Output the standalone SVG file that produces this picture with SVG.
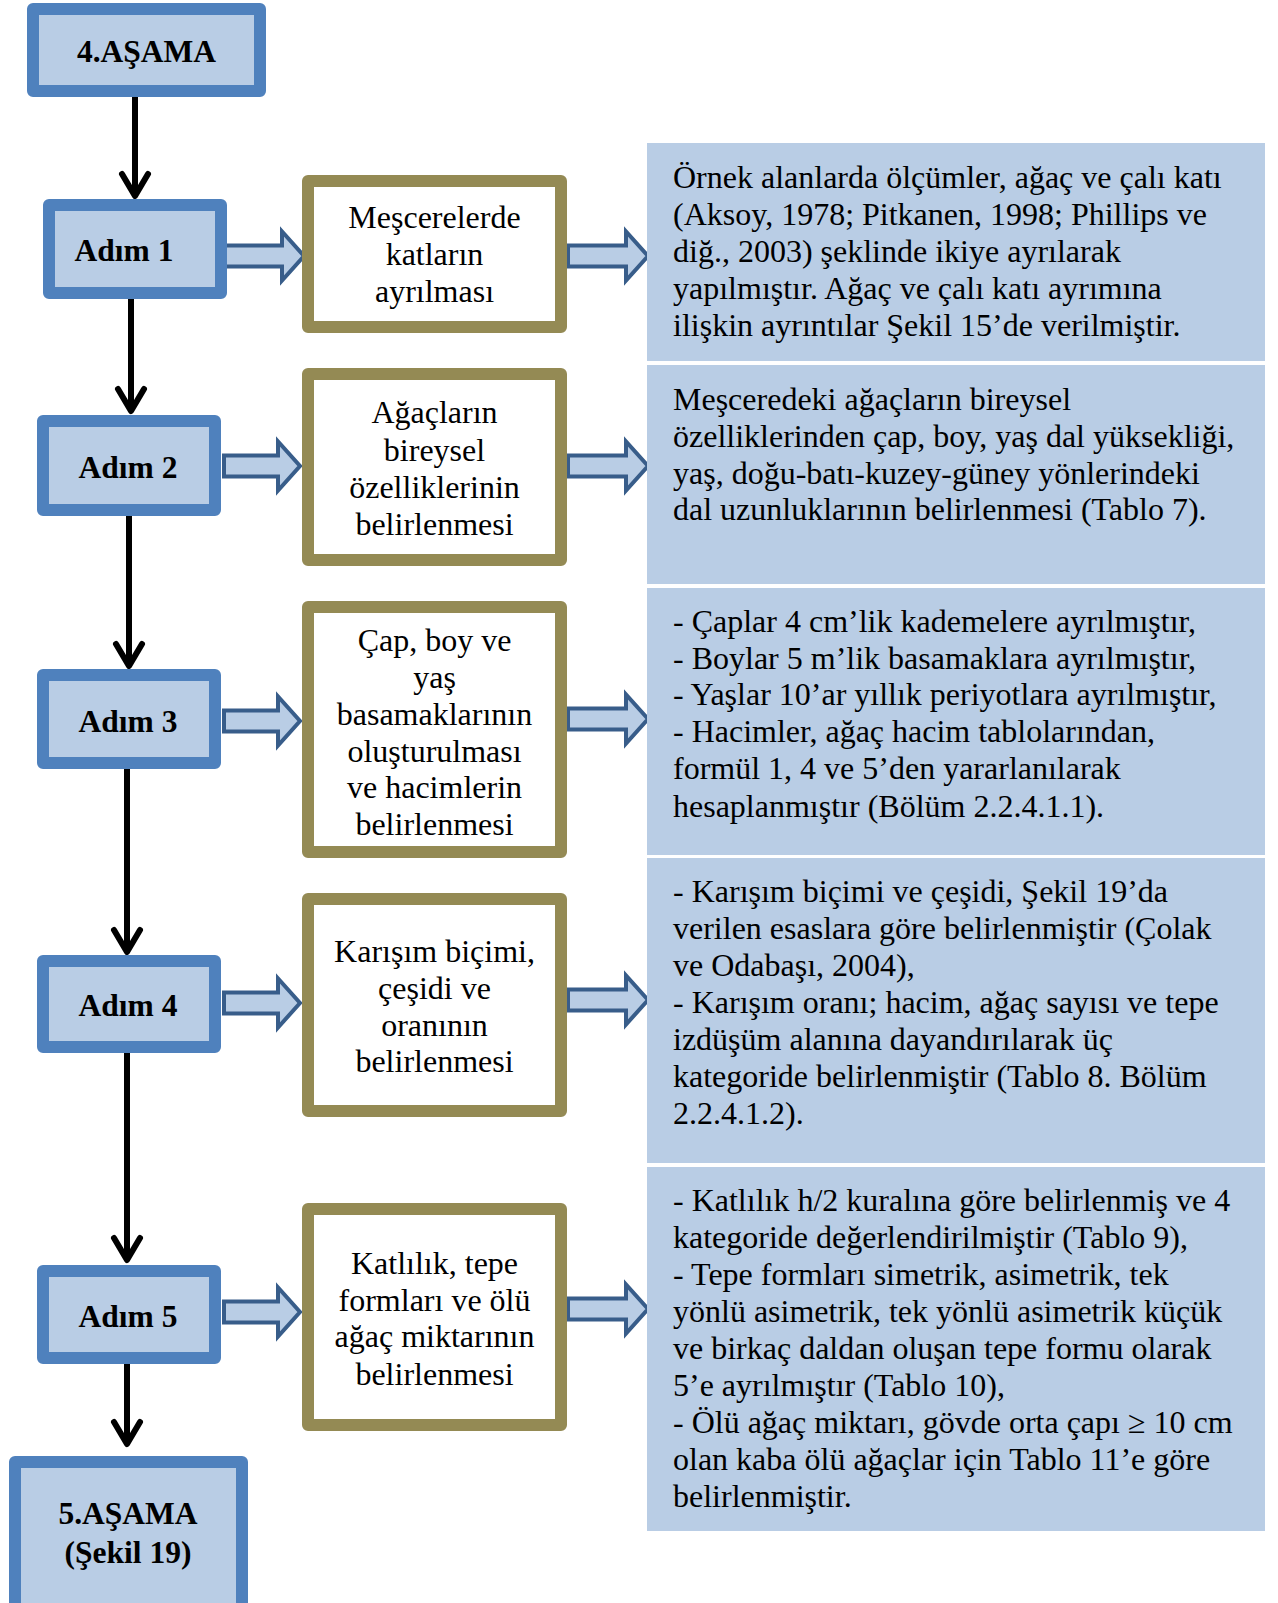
<svg xmlns="http://www.w3.org/2000/svg" width="1278" height="1603" viewBox="0 0 1278 1603">
  <style>
    .step { fill: #B9CDE5; stroke: #4F81BD; stroke-width: 12; stroke-linejoin: round; }
    .task { fill: #FFFFFF; stroke: #948A54; stroke-width: 12; stroke-linejoin: round; }
    .panel { fill: #B9CDE5; }
    .flow { fill: none; stroke: #000000; stroke-width: 6; stroke-linecap: round; stroke-linejoin: round; }
    .block { fill: #B9CDE5; stroke: #385D8A; stroke-width: 4; stroke-linejoin: miter; }
    .title { font-family: "Liberation Serif", "Times New Roman", serif; font-weight: bold; font-size: 31.5px; fill: #000000; text-anchor: middle; }
    .label { font-family: "Liberation Serif", "Times New Roman", serif; font-size: 32px; fill: #000000; text-anchor: middle; }
    .note { font-family: "Liberation Serif", "Times New Roman", serif; font-size: 32px; fill: #000000; }
  </style>

  <rect width="1278" height="1603" fill="#FFFFFF"/>

  <!-- connectors: vertical flow arrows and block arrows -->
  <g id="connectors">
    <path class="flow" d="M135,97 V194 M122,174 L135,196 L148,174"/>
    <path class="flow" d="M131,299 V410 M118,389 L131,411 L144,389"/>
    <path class="flow" d="M129,516 V665 M116,644 L129,666 L142,644"/>
    <path class="flow" d="M127,769 V951 M114,930 L127,952 L140,930"/>
    <path class="flow" d="M127,1053 V1259 M114,1238 L127,1260 L140,1238"/>
    <path class="flow" d="M127,1363 V1443 M114,1422 L127,1444 L140,1422"/>

    <path class="block" d="M224,245.5 H282 V231.5 L304,256 L282,280.5 V266.5 H224 Z"/>
    <path class="block" d="M224,455.5 H278 V441.5 L300,466 L278,490.5 V476.5 H224 Z"/>
    <path class="block" d="M224,710.5 H278 V696.5 L300,721 L278,745.5 V731.5 H224 Z"/>
    <path class="block" d="M224,992.5 H278 V978.5 L300,1003 L278,1027.5 V1013.5 H224 Z"/>
    <path class="block" d="M224,1301.5 H278 V1287.5 L300,1312 L278,1336.5 V1322.5 H224 Z"/>

    <path class="block" d="M568,245.5 H626 V231.5 L648,256 L626,280.5 V266.5 H568 Z"/>
    <path class="block" d="M568,455.5 H626 V441.5 L648,466 L626,490.5 V476.5 H568 Z"/>
    <path class="block" d="M568,708.5 H626 V694.5 L648,719 L626,743.5 V729.5 H568 Z"/>
    <path class="block" d="M568,989.5 H626 V975.5 L648,1000 L626,1024.5 V1010.5 H568 Z"/>
    <path class="block" d="M568,1298.5 H626 V1284.5 L648,1309 L626,1333.5 V1319.5 H568 Z"/>
  </g>

  <!-- stage boxes -->
  <g id="stage4">
    <rect class="step" x="33" y="9" width="227" height="82"/>
    <text class="title" x="146.5" y="62">4.AŞAMA</text>
  </g>

  <g id="step1">
    <rect class="step" x="49" y="205" width="172" height="88"/>
    <text class="title" x="124" y="261">Adım 1</text>
  </g>
  <g id="step2">
    <rect class="step" x="43" y="421" width="172" height="89"/>
    <text class="title" x="128" y="478">Adım 2</text>
  </g>
  <g id="step3">
    <rect class="step" x="43" y="675" width="172" height="88"/>
    <text class="title" x="128" y="732">Adım 3</text>
  </g>
  <g id="step4">
    <rect class="step" x="43" y="961" width="172" height="86"/>
    <text class="title" x="128" y="1016">Adım 4</text>
  </g>
  <g id="step5">
    <rect class="step" x="43" y="1271" width="172" height="87"/>
    <text class="title" x="128" y="1327">Adım 5</text>
  </g>

  <g id="stage5">
    <rect class="step" x="15" y="1462" width="227" height="150"/>
    <text class="title" x="128" y="1524">5.AŞAMA</text>
    <text class="title" x="128" y="1563">(Şekil 19)</text>
  </g>

  <!-- task boxes -->
  <g id="task1">
    <rect class="task" x="308" y="181" width="253" height="146"/>
    <text class="label" x="434.5" y="228">Meşcerelerde</text>
    <text class="label" x="434.5" y="265">katların</text>
    <text class="label" x="434.5" y="302">ayrılması</text>
  </g>
  <g id="task2">
    <rect class="task" x="308" y="374" width="253" height="186"/>
    <text class="label" x="434.5" y="423">Ağaçların</text>
    <text class="label" x="434.5" y="461">bireysel</text>
    <text class="label" x="434.5" y="498">özelliklerinin</text>
    <text class="label" x="434.5" y="535">belirlenmesi</text>
  </g>
  <g id="task3">
    <rect class="task" x="308" y="607" width="253" height="245"/>
    <text class="label" x="434.5" y="651">Çap, boy ve</text>
    <text class="label" x="434.5" y="688">yaş</text>
    <text class="label" x="434.5" y="725">basamaklarının</text>
    <text class="label" x="434.5" y="762">oluşturulması</text>
    <text class="label" x="434.5" y="798">ve hacimlerin</text>
    <text class="label" x="434.5" y="835">belirlenmesi</text>
  </g>
  <g id="task4">
    <rect class="task" x="308" y="899" width="253" height="212"/>
    <text class="label" x="434.5" y="962">Karışım biçimi,</text>
    <text class="label" x="434.5" y="999">çeşidi ve</text>
    <text class="label" x="434.5" y="1036">oranının</text>
    <text class="label" x="434.5" y="1072">belirlenmesi</text>
  </g>
  <g id="task5">
    <rect class="task" x="308" y="1209" width="253" height="216"/>
    <text class="label" x="434.5" y="1274">Katlılık, tepe</text>
    <text class="label" x="434.5" y="1311">formları ve ölü</text>
    <text class="label" x="434.5" y="1347">ağaç miktarının</text>
    <text class="label" x="434.5" y="1385">belirlenmesi</text>
  </g>

  <!-- description panels -->
  <g id="detail1">
    <rect class="panel" x="647" y="143" width="618" height="218"/>
    <text class="note" x="673" y="188">Örnek alanlarda ölçümler, ağaç ve çalı katı</text>
    <text class="note" x="673" y="225">(Aksoy, 1978; Pitkanen, 1998; Phillips ve</text>
    <text class="note" x="673" y="262">diğ., 2003) şeklinde ikiye ayrılarak</text>
    <text class="note" x="673" y="299">yapılmıştır. Ağaç ve çalı katı ayrımına</text>
    <text class="note" x="673" y="336">ilişkin ayrıntılar Şekil 15’de verilmiştir.</text>
  </g>
  <g id="detail2">
    <rect class="panel" x="647" y="365" width="618" height="219"/>
    <text class="note" x="673" y="410">Meşceredeki ağaçların bireysel</text>
    <text class="note" x="673" y="447">özelliklerinden çap, boy, yaş dal yüksekliği,</text>
    <text class="note" x="673" y="484">yaş, doğu-batı-kuzey-güney yönlerindeki</text>
    <text class="note" x="673" y="520">dal uzunluklarının belirlenmesi (Tablo 7).</text>
  </g>
  <g id="detail3">
    <rect class="panel" x="647" y="588" width="618" height="267"/>
    <text class="note" x="673" y="632">- Çaplar 4 cm’lik kademelere ayrılmıştır,</text>
    <text class="note" x="673" y="669">- Boylar 5 m’lik basamaklara ayrılmıştır,</text>
    <text class="note" x="673" y="705">- Yaşlar 10’ar yıllık periyotlara ayrılmıştır,</text>
    <text class="note" x="673" y="742">- Hacimler, ağaç hacim tablolarından,</text>
    <text class="note" x="673" y="779">formül 1, 4 ve 5’den yararlanılarak</text>
    <text class="note" x="673" y="817">hesaplanmıştır (Bölüm 2.2.4.1.1).</text>
  </g>
  <g id="detail4">
    <rect class="panel" x="647" y="858" width="618" height="305"/>
    <text class="note" x="673" y="902">- Karışım biçimi ve çeşidi, Şekil 19’da</text>
    <text class="note" x="673" y="939">verilen esaslara göre belirlenmiştir (Çolak</text>
    <text class="note" x="673" y="976">ve Odabaşı, 2004),</text>
    <text class="note" x="673" y="1013">- Karışım oranı; hacim, ağaç sayısı ve tepe</text>
    <text class="note" x="673" y="1050">izdüşüm alanına dayandırılarak üç</text>
    <text class="note" x="673" y="1087">kategoride belirlenmiştir (Tablo 8. Bölüm</text>
    <text class="note" x="673" y="1124">2.2.4.1.2).</text>
  </g>
  <g id="detail5">
    <rect class="panel" x="647" y="1167" width="618" height="364"/>
    <text class="note" x="673" y="1211">- Katlılık h/2 kuralına göre belirlenmiş ve 4</text>
    <text class="note" x="673" y="1248">kategoride değerlendirilmiştir (Tablo 9),</text>
    <text class="note" x="673" y="1285">- Tepe formları simetrik, asimetrik, tek</text>
    <text class="note" x="673" y="1322">yönlü asimetrik, tek yönlü asimetrik küçük</text>
    <text class="note" x="673" y="1359">ve birkaç daldan oluşan tepe formu olarak</text>
    <text class="note" x="673" y="1396">5’e ayrılmıştır (Tablo 10),</text>
    <text class="note" x="673" y="1433">- Ölü ağaç miktarı, gövde orta çapı ≥ 10 cm</text>
    <text class="note" x="673" y="1470">olan kaba ölü ağaçlar için Tablo 11’e göre</text>
    <text class="note" x="673" y="1507">belirlenmiştir.</text>
  </g>
</svg>
